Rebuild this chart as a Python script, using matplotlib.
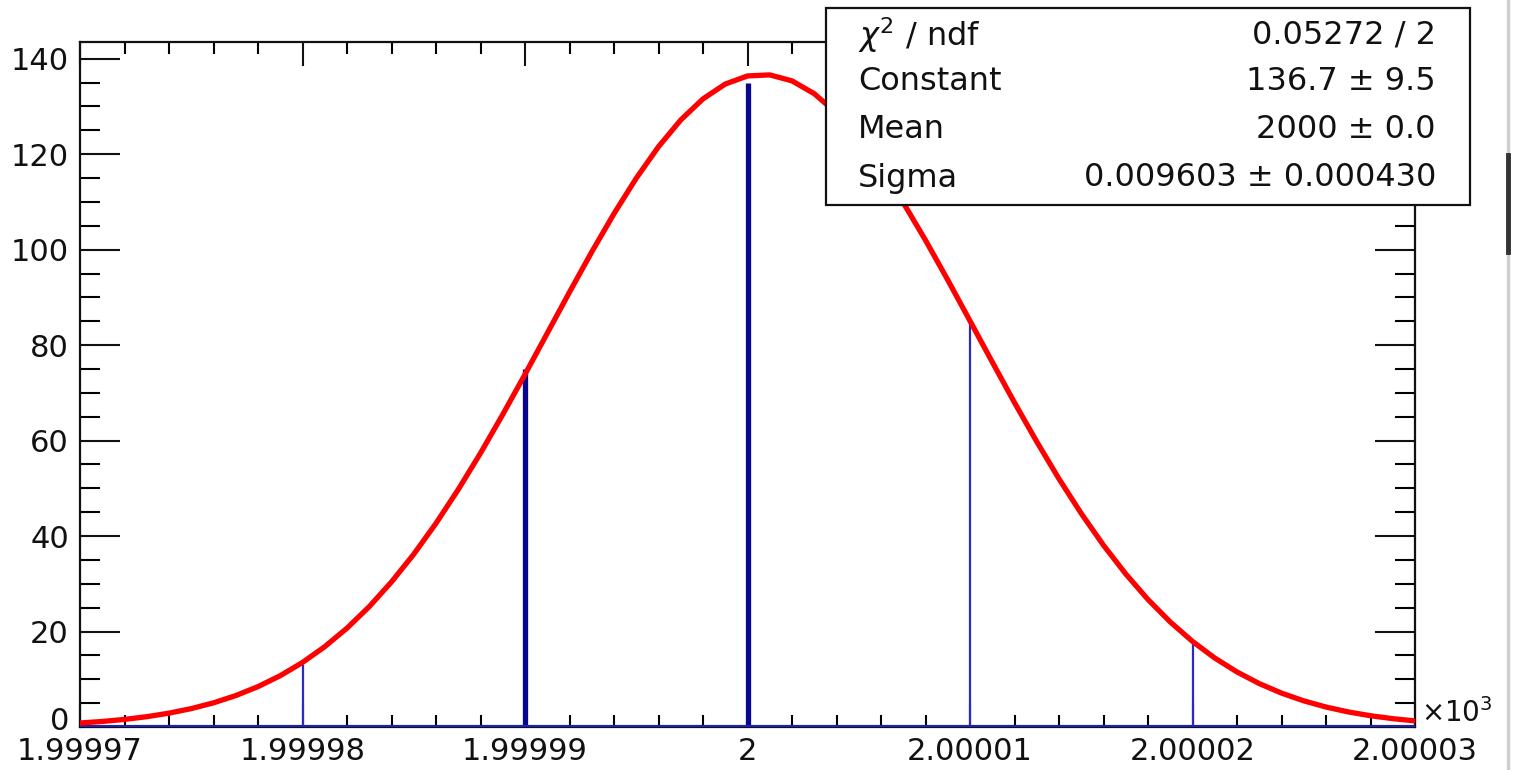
import numpy as np
import matplotlib
matplotlib.use("Agg")
import matplotlib.pyplot as plt
from matplotlib.ticker import FixedLocator, MultipleLocator, FixedFormatter
from matplotlib.patches import Rectangle
from matplotlib.lines import Line2D
from matplotlib.transforms import ScaledTranslation

# ---- data ----
bin_centers = [1999.98, 1999.99, 2000.00, 2000.01, 2000.02]
bin_counts = [13, 75, 135, 85, 18]

fit_y = [0.84, 1.16, 1.59, 2.16, 2.90, 3.85, 5.06, 6.58, 8.46, 10.75,
         13.52, 16.83, 20.71, 25.22, 30.39, 36.20, 42.67, 49.75, 57.37, 65.47,
         73.87, 82.49, 91.10, 99.52, 107.54, 114.96, 121.57, 127.17, 131.59, 134.69,
         136.39, 136.61, 135.36, 132.67, 128.62, 123.36, 117.04, 109.84, 101.98, 93.65,
         85.07, 76.46, 67.95, 59.77, 51.98, 44.73, 38.07, 32.06, 26.70, 22.00,
         17.93, 14.45, 11.53, 9.10, 7.10, 5.48, 4.18, 3.16, 2.36, 1.75, 1.28]
fit_x_range = (1999.97, 2000.03)

x_ticks = [1999.97, 1999.98, 1999.99, 2000.00, 2000.01, 2000.02, 2000.03]
x_tick_labels = ["1.99997", "1.99998", "1.99999", "2", "2.00001", "2.00002", "2.00003"]
y_ticks = [0, 20, 40, 60, 80, 100, 120, 140]

stat_names = [r"$\chi^2$ / ndf", "Constant", "Mean", "Sigma"]
stat_values = ["0.05272 / 2", "136.7 \u00b1 9.5", "2000 \u00b1 0.0", "0.009603 \u00b1 0.000430"]

# ---- figure ----
W, H = 1515, 770
plt.rcParams["font.family"] = ["DejaVu Sans"]
fig = plt.figure(figsize=(W / 100, H / 100), dpi=100)
fig.patch.set_facecolor("white")

ax = fig.add_axes([80 / W, (H - 727) / H, (1415 - 80) / W, (727 - 42) / H])
ax.set_xlim(1999.97, 2000.03)
ax.set_ylim(0, 143.5)

cols = ["#2a2ac4", "#06068f", "#06068f", "#2a2ac4", "#2a2ac4"]
lws = [1.6, 3.8, 3.8, 1.6, 1.6]
ax.vlines(bin_centers, 0, bin_counts, colors=cols, linewidths=lws, zorder=2)
ax.axhline(0, color="#2020b8", lw=3, zorder=3)

fx = np.linspace(fit_x_range[0], fit_x_range[1], len(fit_y))
ax.plot(fx, fit_y, color="#ff0000", lw=3.8, zorder=4,
        solid_capstyle="round", solid_joinstyle="round")

for s in ax.spines.values():
    s.set_linewidth(1.6)
    s.set_color("#111111")

ax.xaxis.set_major_locator(FixedLocator(x_ticks))
ax.xaxis.set_major_formatter(FixedFormatter(x_tick_labels))
ax.xaxis.set_minor_locator(MultipleLocator(0.002))
ax.yaxis.set_major_locator(FixedLocator(y_ticks))
ax.yaxis.set_minor_locator(MultipleLocator(5))

ax.tick_params(axis="x", which="major", direction="in", length=17, width=1.5,
               top=True, bottom=True, labelsize=22, pad=7, colors="#111111")
ax.tick_params(axis="x", which="minor", direction="in", length=8.5, width=1.5,
               top=True, bottom=True)
ax.tick_params(axis="y", which="major", direction="in", length=29, width=1.5,
               left=True, right=True, labelsize=22, pad=8, colors="#111111")
ax.tick_params(axis="y", which="minor", direction="in", length=14.5, width=1.5,
               left=True, right=True)

# lift the "0" label slightly so it does not collide with the first x label
fig.canvas.draw()
for lab in ax.get_yticklabels():
    if lab.get_text() == "0":
        lab.set_transform(lab.get_transform() + ScaledTranslation(0, 6 / 72, fig.dpi_scale_trans))

fig.text(1421 / W, (H - 713) / H, r"$\times$10$^{3}$", fontsize=20,
         ha="left", va="center", color="#111111")

# stats box
bx0, bx1, by0, by1 = 826, 1470, 8, 205
fig.patches.append(Rectangle((bx0 / W, (H - by1) / H), (bx1 - bx0) / W, (by1 - by0) / H,
                             transform=fig.transFigure, facecolor="white",
                             edgecolor="#111111", lw=1.6, zorder=5))
row_y = [35, 82, 130, 178]
for name, val, ry in zip(stat_names, stat_values, row_y):
    fig.text(858 / W, (H - ry) / H, name, fontsize=23, ha="left", va="center",
             color="#111111", zorder=6)
    fig.text(1436 / W, (H - ry) / H, val, fontsize=23, ha="right", va="center",
             color="#111111", zorder=6)

# window scrollbar artifact at right edge
fig.lines.append(Line2D([1508 / W, 1508 / W], [0, 1], transform=fig.transFigure,
                        color="#cfcfcf", lw=2.5))
fig.lines.append(Line2D([1508 / W, 1508 / W], [(H - 252) / H, (H - 155) / H],
                        transform=fig.transFigure, color="#333333", lw=3.5))

fig.savefig("out.png", dpi=100)
